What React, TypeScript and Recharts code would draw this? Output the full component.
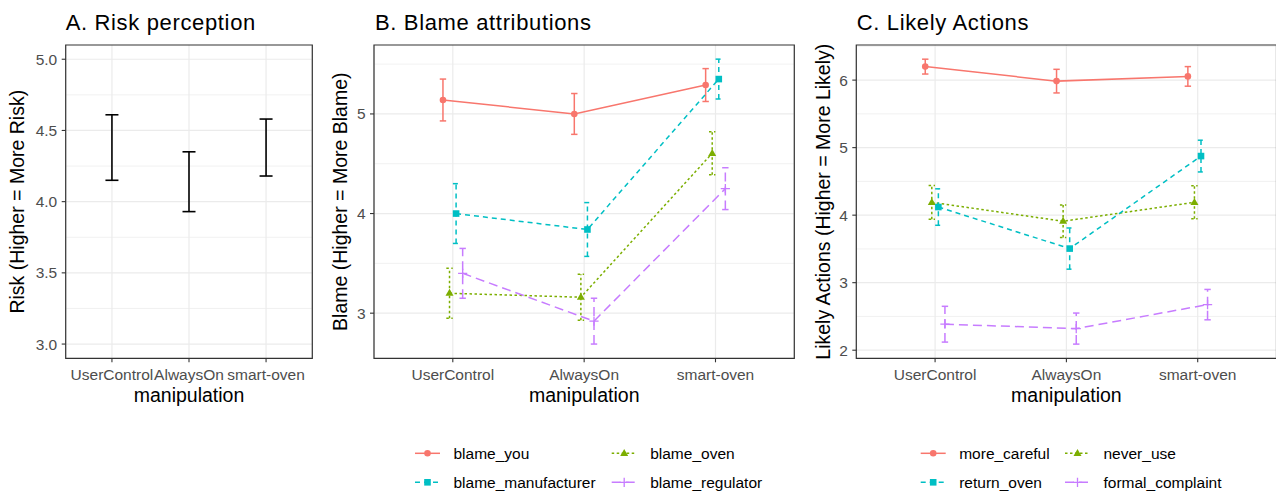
import { LineChart, Line, XAxis, YAxis, CartesianGrid, ErrorBar, ReferenceArea } from "recharts";

const categories = ["UserControl", "AlwaysOn", "smart-oven"];

// A. Risk perception (mean, half-width of interval)
const riskMean = [4.38, 4.14, 4.38];
const riskCi = [0.23, 0.21, 0.2];

// B. Blame attributions
const blameNames = ["blame_you", "blame_oven", "blame_manufacturer", "blame_regulator"];
const blameYou = [5.14, 5.0, 5.29];
const blameYouCi = [0.21, 0.205, 0.165];
const blameOven = [3.2, 3.16, 4.605];
const blameOvenCi = [0.25, 0.23, 0.215];
const blameManufacturer = [4.0, 3.84, 5.35];
const blameManufacturerCi = [0.3, 0.27, 0.2];
const blameRegulator = [3.4, 2.92, 4.25];
const blameRegulatorCi = [0.25, 0.23, 0.21];

// C. Likely actions
const actionNames = ["more_careful", "never_use", "return_oven", "formal_complaint"];
const moreCareful = [6.2, 5.985, 6.055];
const moreCarefulCi = [0.11, 0.175, 0.145];
const neverUse = [4.19, 3.91, 4.19];
const neverUseCi = [0.25, 0.24, 0.245];
const returnOven = [4.12, 3.505, 4.875];
const returnOvenCi = [0.27, 0.305, 0.235];
const formalComplaint = [2.385, 2.32, 2.675];
const formalComplaintCi = [0.265, 0.23, 0.225];

const COLORS = ["#F8766D", "#7CAE00", "#00BFC4", "#C77CFF"];
const DASHES = [undefined, "2.5 2.5", "5 4", "9 5"];
const SHAPES = ["circle", "triangle", "square", "plus"];
const DODGE = [-0.075, -0.025, 0.025, 0.075];

const FONT = "'Liberation Sans', Arial, sans-serif";
const TICK = { fill: "#4D4D4D", fontSize: 15.5 };

function Marker({ shape, x, y, color }: { shape: string; x: number; y: number; color: string }) {
  if (shape === "circle") return <circle cx={x} cy={y} r={3.3} fill={color} />;
  if (shape === "triangle")
    return <polygon points={`${x},${y - 4.4} ${x - 4},${y + 2.6} ${x + 4},${y + 2.6}`} fill={color} />;
  if (shape === "square") return <rect x={x - 3.3} y={y - 3.3} width={6.6} height={6.6} fill={color} />;
  return <path d={`M${x - 4.6},${y}H${x + 4.6}M${x},${y - 4.6}V${y + 4.6}`} stroke={color} strokeWidth={1.3} />;
}

type Series = { name: string; mean: number[]; ci: number[] };

function toPoints(mean: number[], ci: number[], offset: number) {
  return categories.map((c, i) => ({ x: i + 1 + offset, cat: c, y: mean[i], err: ci[i] }));
}

function Panel({
  left,
  width,
  yAxisWidth,
  marginLeft,
  marginRight,
  domain,
  majors,
  minors,
  series,
  decimals,
  plain,
}: {
  left: number;
  width: number;
  yAxisWidth: number;
  marginLeft: number;
  marginRight: number;
  domain: [number, number];
  majors: number[];
  minors: number[];
  series: Series[];
  decimals: number;
  plain?: boolean;
}) {
  return (
    <div style={{ position: "absolute", left, top: 0 }}>
      <LineChart
        width={width}
        height={420}
        margin={{ top: 45, right: marginRight, bottom: 21.7, left: marginLeft }}
      >
        <CartesianGrid stroke="#EBEBEB" strokeWidth={0.7} horizontalValues={minors} vertical={false} />
        <CartesianGrid stroke="#EBEBEB" strokeWidth={1.2} horizontalValues={majors} />
        <XAxis
          type="number"
          dataKey="x"
          domain={[0.4, 3.6]}
          ticks={[1, 2, 3]}
          interval={0}
          allowDataOverflow
          tickFormatter={(v: number) => categories[Math.round(v) - 1]}
          axisLine={false}
          tickLine={{ stroke: "#333333", strokeWidth: 1.1 }}
          tickSize={4}
          tickMargin={6.5}
          height={40}
          tick={TICK}
        />
        <YAxis
          type="number"
          domain={domain}
          ticks={majors}
          allowDataOverflow
          tickFormatter={(v: number) => v.toFixed(decimals)}
          axisLine={false}
          tickLine={{ stroke: "#333333", strokeWidth: 1.1 }}
          tickSize={4}
          tickMargin={4.5}
          width={yAxisWidth}
          tick={TICK}
        />
        {series.map((s, k) => (
          <Line
            key={s.name}
            name={s.name}
            data={toPoints(s.mean, s.ci, plain ? 0 : DODGE[k])}
            dataKey="y"
            stroke={plain ? "none" : COLORS[k]}
            strokeWidth={1.5}
            strokeDasharray={plain ? undefined : DASHES[k]}
            isAnimationActive={false}
            activeDot={false}
            dot={
              plain
                ? false
                : (p: any) => (
                    <g key={`${s.name}-${p.index}`}>
                      <Marker shape={SHAPES[k]} x={p.cx} y={p.cy} color={COLORS[k]} />
                    </g>
                  )
            }
          >
            <ErrorBar
              dataKey="err"
              direction="y"
              width={plain ? 6.5 : 3.2}
              stroke={plain ? "#000000" : COLORS[k]}
              strokeWidth={plain ? 1.6 : 1.5}
              strokeDasharray={plain ? undefined : DASHES[k]}
              isAnimationActive={false}
            />
          </Line>
        ))}
        <ReferenceArea
          x1={0.4}
          x2={3.6}
          y1={domain[0]}
          y2={domain[1]}
          fill="none"
          stroke="#333333"
          strokeWidth={1.2}
          ifOverflow="visible"
        />
      </LineChart>
    </div>
  );
}

function LegendBlock({ names, x0, col2 }: { names: string[]; x0: number; col2: number }) {
  const rows = [453.3, 482.3];
  return (
    <g>
      {names.map((n, i) => {
        const kx = i % 2 === 0 ? x0 : col2;
        const y = rows[Math.floor(i / 2)];
        return (
          <g key={n}>
            <line
              x1={kx}
              x2={kx + 25}
              y1={y}
              y2={y}
              stroke={COLORS[i]}
              strokeWidth={1.5}
              strokeDasharray={DASHES[i]}
            />
            <Marker shape={SHAPES[i]} x={kx + 12.5} y={y} color={COLORS[i]} />
            <text x={kx + 38.5} y={y + 5.4} fontSize={15.5} fill="#000000">
              {n}
            </text>
          </g>
        );
      })}
    </g>
  );
}

export default function App() {
  const risk: Series[] = [{ name: "risk", mean: riskMean, ci: riskCi }];
  const blame: Series[] = [
    { name: blameNames[0], mean: blameYou, ci: blameYouCi },
    { name: blameNames[1], mean: blameOven, ci: blameOvenCi },
    { name: blameNames[2], mean: blameManufacturer, ci: blameManufacturerCi },
    { name: blameNames[3], mean: blameRegulator, ci: blameRegulatorCi },
  ];
  const actions: Series[] = [
    { name: actionNames[0], mean: moreCareful, ci: moreCarefulCi },
    { name: actionNames[1], mean: neverUse, ci: neverUseCi },
    { name: actionNames[2], mean: returnOven, ci: returnOvenCi },
    { name: actionNames[3], mean: formalComplaint, ci: formalComplaintCi },
  ];

  const titleStyle = { letterSpacing: "0.65px" };

  return (
    <div
      style={{
        position: "absolute",
        left: 0,
        top: 0,
        width: 1276,
        height: 496,
        overflow: "hidden",
        background: "#FFFFFF",
        fontFamily: FONT,
      }}
    >
      <Panel
        left={0}
        width={340}
        yAxisWidth={40}
        marginLeft={25.7}
        marginRight={27.7}
        domain={[2.9, 5.1]}
        majors={[3, 3.5, 4, 4.5, 5]}
        minors={[3.25, 3.75, 4.25, 4.75]}
        series={risk}
        decimals={1}
        plain
      />
      <Panel
        left={330}
        width={480}
        yAxisWidth={30}
        marginLeft={14}
        marginRight={15.7}
        domain={[2.547, 5.692]}
        majors={[3, 4, 5]}
        minors={[3.5, 4.5, 5.5]}
        series={blame}
        decimals={0}
      />
      <Panel
        left={800}
        width={477}
        yAxisWidth={30}
        marginLeft={26.3}
        marginRight={0.5}
        domain={[1.88, 6.52]}
        majors={[2, 3, 4, 5, 6]}
        minors={[2.5, 3.5, 4.5, 5.5, 6.5]}
        series={actions}
        decimals={0}
      />
      <svg
        width={1276}
        height={496}
        style={{ position: "absolute", left: 0, top: 0, pointerEvents: "none", fontFamily: FONT }}
      >
        <text x={65.7} y={30} fontSize={22} fill="#000000" style={titleStyle}>A. Risk perception</text>
        <text x={375} y={30} fontSize={22} fill="#000000" style={titleStyle}>B. Blame attributions</text>
        <text x={856.7} y={30} fontSize={22} fill="#000000" style={titleStyle}>C. Likely Actions</text>

        <text x={189} y={401.5} fontSize={19.5} textAnchor="middle" fill="#000000">manipulation</text>
        <text x={584.2} y={401.5} fontSize={19.5} textAnchor="middle" fill="#000000">manipulation</text>
        <text x={1066.4} y={401.5} fontSize={19.5} textAnchor="middle" fill="#000000">manipulation</text>

        <text transform="translate(23.5,201.7) rotate(-90)" fontSize={19.5} textAnchor="middle" fill="#000000">
          Risk (Higher = More Risk)
        </text>
        <text transform="translate(346.5,201.7) rotate(-90)" fontSize={19.5} textAnchor="middle" fill="#000000">
          Blame (Higher = More Blame)
        </text>
        <text transform="translate(829.5,201.7) rotate(-90)" fontSize={19.5} textAnchor="middle" fill="#000000">
          Likely Actions (Higher = More Likely)
        </text>

        <LegendBlock names={blameNames} x0={415} col2={611.7} />
        <LegendBlock names={actionNames} x0={920.7} col2={1065} />
      </svg>
    </div>
  );
}
